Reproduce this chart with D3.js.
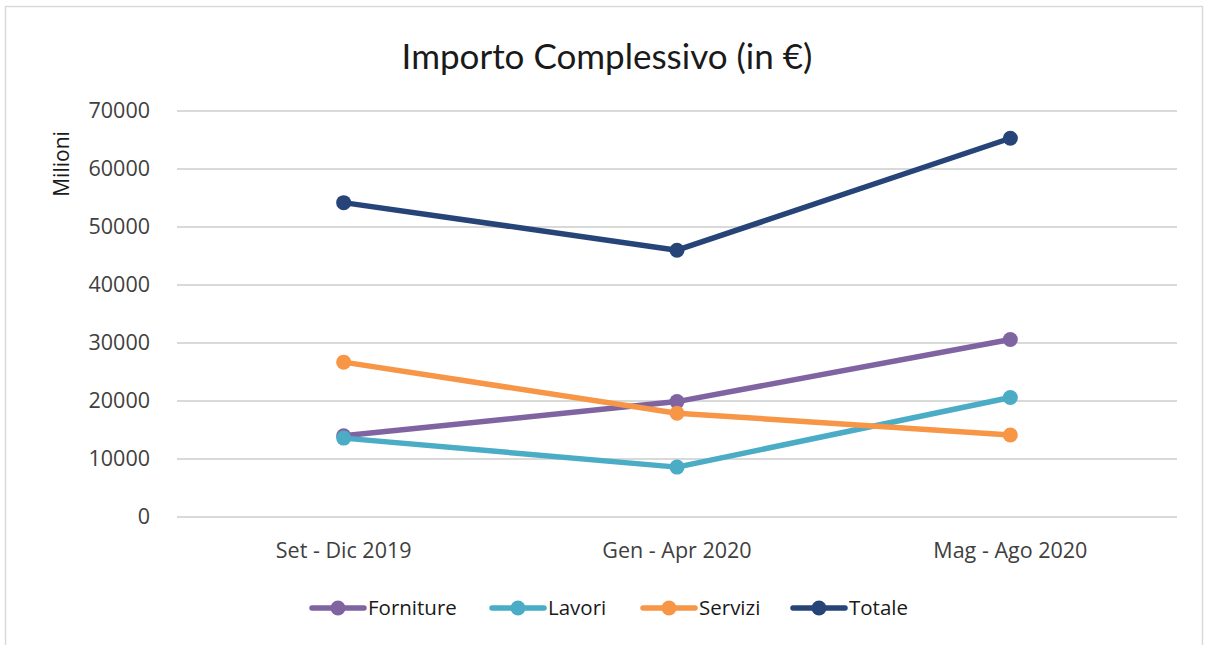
<!DOCTYPE html>
<html>
<head>
<meta charset="utf-8">
<script src="https://cdn.jsdelivr.net/npm/d3@7"></script>
<style>
  body { margin: 0; background: #fff; }
  text { font-family: "Open Sans", sans-serif; fill: #404040; }
</style>
</head>
<body>
<div id="chart"></div>
<script>
var categories = ["Set - Dic 2019", "Gen - Apr 2020", "Mag - Ago 2020"];
var seriesNames = ["Forniture", "Lavori", "Servizi", "Totale"];
var forniture = [14000, 19900, 30600];
var lavori = [13600, 8600, 20600];
var servizi = [26700, 17900, 14150];
var totale = [54200, 46000, 65300];
var yTicks = [0, 10000, 20000, 30000, 40000, 50000, 60000, 70000];
var colors = ["#8064a2", "#4bacc6", "#f79646", "#264478"];

var width = 1207, height = 645;
var margin = {top: 111, left: 177, right: 30, bottom: 128};

var svg = d3.select("#chart").append("svg")
  .attr("width", width)
  .attr("height", height);

// outer frame
svg.append("rect")
  .attr("x", 5.5).attr("y", 6.5)
  .attr("width", 1197).attr("height", 660)
  .attr("fill", "#fff")
  .attr("stroke", "#d9d9d9")
  .attr("stroke-width", 1.5);

var x = d3.scaleBand()
  .domain(categories)
  .range([margin.left, width - margin.right]);

var y = d3.scaleLinear()
  .domain([0, 70000])
  .range([height - margin.bottom, margin.top]);

// gridlines
svg.append("g")
  .selectAll("line")
  .data(yTicks)
  .enter()
  .append("line")
  .attr("x1", margin.left)
  .attr("x2", width - margin.right)
  .attr("y1", function (d) { return y(d); })
  .attr("y2", function (d) { return y(d); })
  .attr("stroke", "#d9d9d9")
  .attr("stroke-width", 2);

var yAxis = svg.append("g")
  .attr("transform", "translate(" + (margin.left - 24) + ",0)")
  .call(d3.axisLeft(y).tickValues(yTicks).tickSize(0).tickFormat(d3.format("d")));
yAxis.select(".domain").remove();
yAxis.selectAll("text")
  .style("font-size", "21.5px")
  .style("fill", "#404040");

var xAxis = svg.append("g")
  .attr("transform", "translate(0," + (height - margin.bottom + 23) + ")")
  .call(d3.axisBottom(x).tickSize(0));
xAxis.select(".domain").remove();
xAxis.selectAll("text")
  .style("font-size", "21.5px")
  .style("fill", "#404040");

// title
svg.append("text")
  .attr("x", 607).attr("y", 69)
  .attr("text-anchor", "middle")
  .style("font-family", "Lato, sans-serif")
  .style("font-size", "35px")
  .style("fill", "#1a1a1a")
  .text("Importo Complessivo (in €)");

// y title
svg.append("text")
  .attr("transform", "translate(69,164) rotate(-90)")
  .attr("text-anchor", "middle")
  .style("font-size", "21px")
  .style("fill", "#1a1a1a")
  .text("Milioni");

var allSeries = [forniture, lavori, servizi, totale];

var line = d3.line()
  .x(function (d, i) { return x(categories[i]) + x.bandwidth() / 2; })
  .y(function (d) { return y(d); });

allSeries.forEach(function (values, s) {
  svg.append("path")
    .datum(values)
    .attr("d", line)
    .attr("fill", "none")
    .attr("stroke", colors[s])
    .attr("stroke-width", 5.5)
    .attr("stroke-linejoin", "round");

  svg.append("g")
    .selectAll("circle")
    .data(values)
    .enter()
    .append("circle")
    .attr("cx", function (d, i) { return x(categories[i]) + x.bandwidth() / 2; })
    .attr("cy", function (d) { return y(d); })
    .attr("r", 7.5)
    .attr("fill", colors[s]);
});

// legend
var legendX = [312, 492, 643, 793];
var legend = svg.append("g")
  .selectAll("g")
  .data(seriesNames)
  .enter()
  .append("g")
  .attr("transform", function (d, i) { return "translate(" + legendX[i] + ",608)"; });

legend.append("line")
  .attr("x1", 0).attr("x2", 52)
  .attr("stroke", function (d, i) { return colors[i]; })
  .attr("stroke-width", 5.5)
  .attr("stroke-linecap", "round");

legend.append("circle")
  .attr("cx", 26)
  .attr("r", 7.5)
  .attr("fill", function (d, i) { return colors[i]; });

legend.append("text")
  .attr("x", 56)
  .attr("dy", "0.35em")
  .style("font-size", "20.5px")
  .style("fill", "#1a1a1a")
  .text(function (d) { return d; });
</script>
</body>
</html>
